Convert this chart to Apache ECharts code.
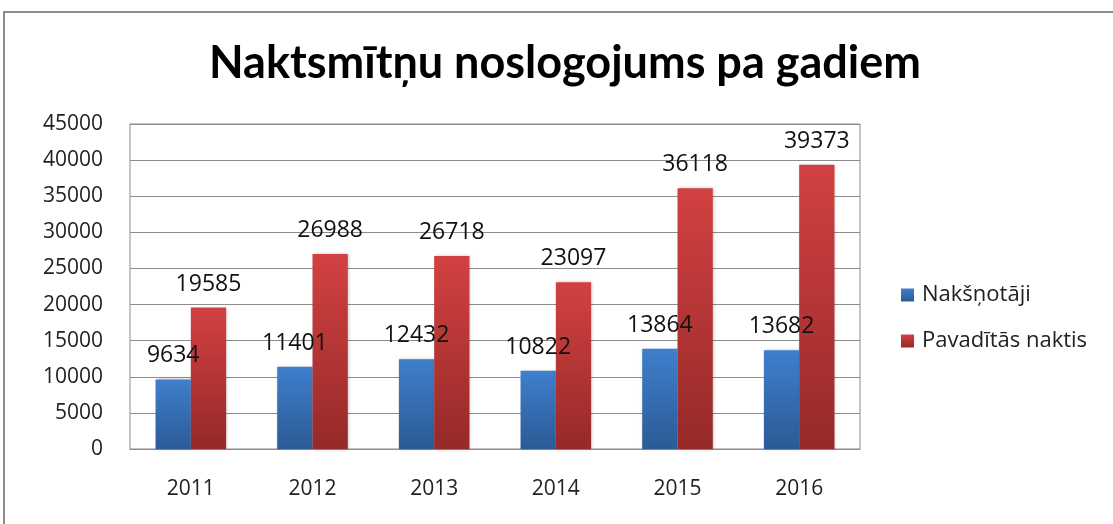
<!DOCTYPE html>
<html lang="lv">
<head>
<meta charset="UTF-8">
<title>Naktsmītņu noslogojums pa gadiem</title>
<script src="https://cdn.jsdelivr.net/npm/echarts@6/dist/echarts.min.js"></script>
<style>
  html, body { margin: 0; padding: 0; background: #fff; }
  #chart { width: 1113px; height: 524px; }
</style>
</head>
<body>
<div id="chart"></div>
<script>
var years = ['2011', '2012', '2013', '2014', '2015', '2016'];
var guests = [9634, 11401, 12432, 10822, 13864, 13682];
var nights = [19585, 26988, 26718, 23097, 36118, 39373];
var seriesNames = ['Nakšņotāji', 'Pavadītās naktis'];

var font = '"Open Sans", Lato, sans-serif';

function grad(top, bottom) {
    return new echarts.graphic.LinearGradient(0, 0, 0, 1, [
        { offset: 0, color: top },
        { offset: 1, color: bottom }
    ]);
}

var chart = echarts.init(document.getElementById('chart'));
chart.setOption({
    animation: false,
    title: {
        text: 'Naktsmītņu noslogojums pa gadiem',
        left: 560,
        textAlign: 'center',
        top: 36,
        textStyle: { fontFamily: 'Lato, sans-serif', fontSize: 45, fontWeight: 'bold', color: '#000' }
    },
    graphic: [{
        type: 'rect',
        shape: { x: 4, y: 12, width: 1200, height: 600 },
        style: { fill: 'none', stroke: '#8c8c8c', lineWidth: 2 },
        silent: true
    }],
    legend: {
        orient: 'vertical',
        left: 896,
        top: 279,
        itemGap: 24,
        itemWidth: 13,
        itemHeight: 13,
        icon: 'rect',
        textStyle: { fontFamily: font, fontSize: 22, color: '#222', padding: [0, 0, 0, 3] },
        data: seriesNames
    },
    grid: { left: 130, top: 124, width: 730, height: 325, show: true, borderColor: '#8c8c8c', borderWidth: 1 },
    xAxis: {
        type: 'category',
        data: years,
        axisLine: { lineStyle: { color: '#8c8c8c' } },
        axisTick: { show: false },
        axisLabel: { fontFamily: font, fontSize: 21, color: '#222', margin: 30 }
    },
    yAxis: {
        type: 'value',
        min: 0,
        max: 45000,
        interval: 5000,
        axisLine: { show: false },
        axisTick: { show: false },
        splitLine: { lineStyle: { color: '#8c8c8c' } },
        axisLabel: { fontFamily: font, fontSize: 21, color: '#222', margin: 27, formatter: function (v) { return String(v); } }
    },
    series: [{
        name: seriesNames[0],
        type: 'bar',
        data: guests,
        barGap: '0%',
        barCategoryGap: '42%',
        itemStyle: { color: grad('#3f7fcc', '#2c5a96'), shadowColor: 'rgba(0,0,0,0.25)', shadowBlur: 3, shadowOffsetX: 1 },
        label: { show: true, position: 'top', distance: 12, fontFamily: font, fontSize: 23, color: '#111' }
    }, {
        name: seriesNames[1],
        type: 'bar',
        data: nights,
        itemStyle: { color: grad('#d24141', '#962929'), shadowColor: 'rgba(0,0,0,0.25)', shadowBlur: 3, shadowOffsetX: 1 },
        label: { show: true, position: 'top', distance: 12, fontFamily: font, fontSize: 23, color: '#111' }
    }]
});
</script>
</body>
</html>
